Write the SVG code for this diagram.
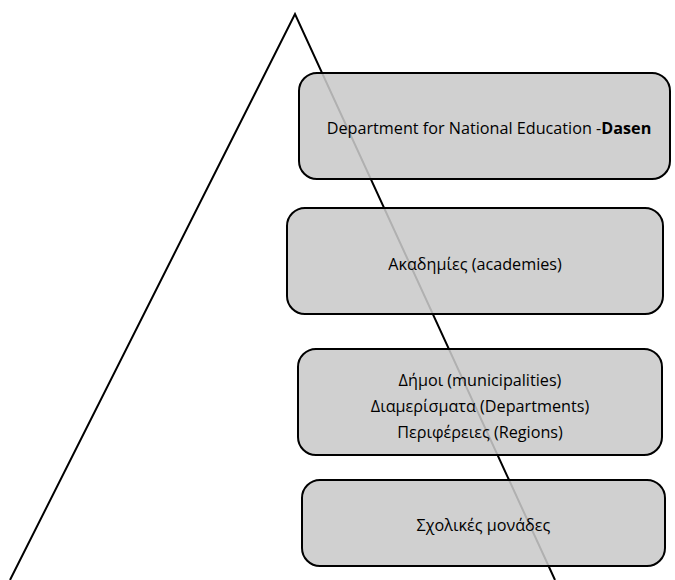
<svg xmlns="http://www.w3.org/2000/svg" width="675" height="580" viewBox="0 0 675 580">
<style>
.box{fill:#c9c9c9;fill-opacity:0.875;stroke:#000;stroke-width:2}
.lbl{font-family:"Open Sans","Noto Sans","Liberation Sans",sans-serif;font-size:16.2px;fill:#000;text-anchor:middle}
.b{font-weight:bold}
</style>
<rect width="675" height="580" fill="#fff"/>
<g id="connectors">
<path d="M10,580 L295,14 L555,580" fill="none" stroke="#000" stroke-width="2"/>
</g>
<g id="node1">
<rect class="box" x="299" y="73" width="371" height="106" rx="18"/>
<text class="lbl" x="489" y="134">Department for National Education -<tspan class="b">Dasen</tspan></text>
</g>
<g id="node2">
<rect class="box" x="287" y="208" width="376" height="106" rx="18"/>
<text class="lbl" x="475" y="270">Ακαδημίες (academies)</text>
</g>
<g id="node3">
<rect class="box" x="298" y="349" width="364" height="106" rx="18"/>
<text class="lbl" x="480" y="386">Δήμοι (municipalities)</text>
<text class="lbl" x="480" y="412">Διαμερίσματα (Departments)</text>
<text class="lbl" x="480" y="438">Περιφέρειες (Regions)</text>
</g>
<g id="node4">
<rect class="box" x="302" y="480" width="363" height="86" rx="18"/>
<text class="lbl" x="483.5" y="531">Σχολικές μονάδες</text>
</g>
</svg>
